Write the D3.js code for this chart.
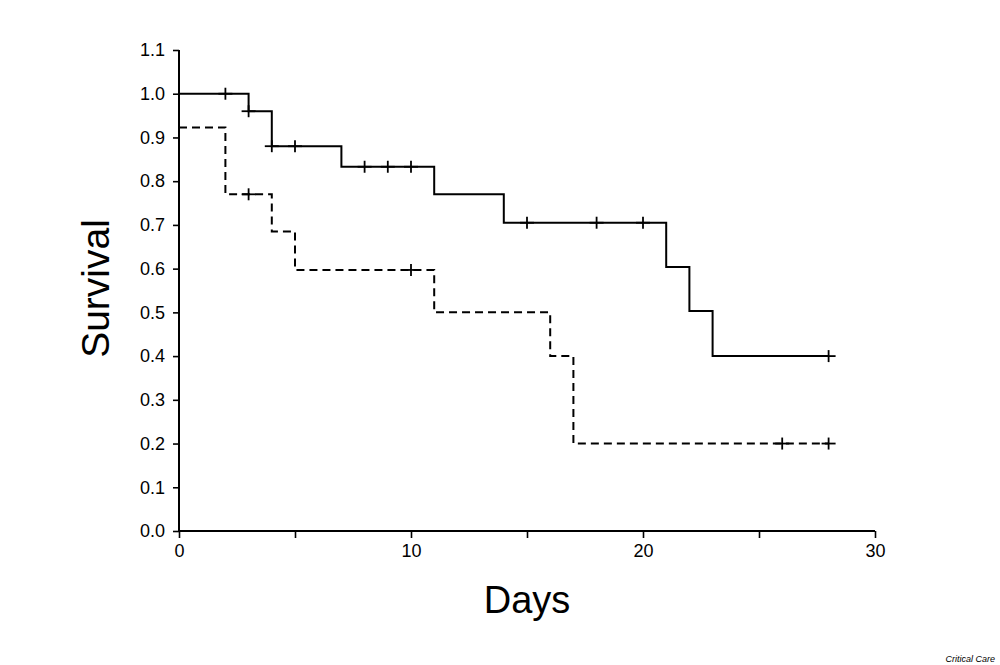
<!DOCTYPE html>
<html><head><meta charset="utf-8">
<script src="https://cdn.jsdelivr.net/npm/d3@7"></script>
<style>body{margin:0;background:#fff}svg{display:block}</style>
</head><body>
<script>
// Data
const solidTimes = [0, 3, 4, 7, 11, 14, 21, 22, 23];
const solidValues = [1.0, 0.96, 0.88, 0.833, 0.77, 0.705, 0.604, 0.503, 0.40];
const solidEnd = 28;
const solidCensorDays = [2, 3, 4, 5, 8, 9, 10, 15, 18, 20, 28];
const solidCensorValues = [1.0, 0.96, 0.88, 0.88, 0.833, 0.833, 0.833, 0.705, 0.705, 0.705, 0.40];

const dashTimes = [0, 2, 4, 5, 11, 16, 17];
const dashValues = [0.923, 0.77, 0.685, 0.597, 0.50, 0.40, 0.20];
const dashEnd = 28;
const dashCensorDays = [3, 10, 26, 28];
const dashCensorValues = [0.77, 0.597, 0.20, 0.20];

const yTicks = [0,0.1,0.2,0.3,0.4,0.5,0.6,0.7,0.8,0.9,1.0,1.1];
const xTicks = [0,5,10,15,20,25,30];
const xTickLabels = ["0","","10","","20","","30"];

const W = 1000, H = 665;
const m = {left: 179, top: 50, right: 125, bottom: 134};
const svg = d3.select("body").append("svg").attr("width", W).attr("height", H)
  .style("font-family", "'Liberation Sans', Arial, Helvetica, sans-serif");

const x = d3.scaleLinear().domain([0, 30]).range([m.left, W - m.right]);
const y = d3.scaleLinear().domain([0, 1.1]).range([H - m.bottom, m.top]);

// axes
const yAxis = svg.append("g").attr("transform", `translate(${m.left},0)`)
  .call(d3.axisLeft(y).tickValues(yTicks).tickFormat(d3.format(".1f")).tickSize(6).tickPadding(8));
const xAxis = svg.append("g").attr("transform", `translate(0,${H - m.bottom})`)
  .call(d3.axisBottom(x).tickValues(xTicks).tickFormat((d,i) => xTickLabels[i]).tickSize(7).tickPadding(6));
[yAxis, xAxis].forEach(g => {
  g.attr("font-size", 18).attr("font-family", "'Liberation Sans', Arial, sans-serif");
  g.select(".domain").attr("stroke", "#000").attr("stroke-width", 2);
  g.selectAll(".tick line").attr("stroke", "#000").attr("stroke-width", 1.6);
  g.selectAll(".tick text").attr("fill", "#000").attr("font-size", 18).style("font-size", "18px");
});
yAxis.select(".domain").attr("d", `M0,${y(0)}V${y(1.1)}`);
xAxis.select(".domain").attr("d", `M${x(0)},0H${x(30)}`);

function stepData(times, values, end) {
  const pts = times.map((t, i) => [t, values[i]]);
  pts.push([end, values[values.length - 1]]);
  return pts;
}
const line = d3.line().x(d => x(d[0])).y(d => y(d[1])).curve(d3.curveStepAfter);

svg.append("path").datum(stepData(solidTimes, solidValues, solidEnd))
  .attr("d", line).attr("fill", "none").attr("stroke", "#000").attr("stroke-width", 2);
svg.append("path").datum(stepData(dashTimes, dashValues, dashEnd))
  .attr("d", line).attr("fill", "none").attr("stroke", "#000").attr("stroke-width", 2)
  .attr("stroke-dasharray", "8,5");

function censors(days, vals) {
  const g = svg.append("g").attr("stroke", "#000").attr("stroke-width", 1.8);
  days.forEach((d, i) => {
    const cx = x(d), cy = y(vals[i]);
    g.append("line").attr("x1", cx).attr("x2", cx).attr("y1", cy - 6).attr("y2", cy + 6);
    g.append("line").attr("x1", cx - 7).attr("x2", cx + 7).attr("y1", cy).attr("y2", cy);
  });
}
censors(solidCensorDays, solidCensorValues);
censors(dashCensorDays, dashCensorValues);

// axis titles
svg.append("text").attr("x", (x(0) + x(30)) / 2).attr("y", 613).attr("text-anchor", "middle")
  .style("font-size", "38px").text("Days");
svg.append("text").attr("transform", `translate(109,${(y(0)+y(1.1))/2 - 2}) rotate(-90)`)
  .attr("text-anchor", "middle").style("font-size", "39px").text("Survival");

svg.append("text").attr("x", 995).attr("y", 662).attr("text-anchor", "end")
  .style("font-size", "9px").style("font-style", "italic").text("Critical Care");
</script>
</body></html>
